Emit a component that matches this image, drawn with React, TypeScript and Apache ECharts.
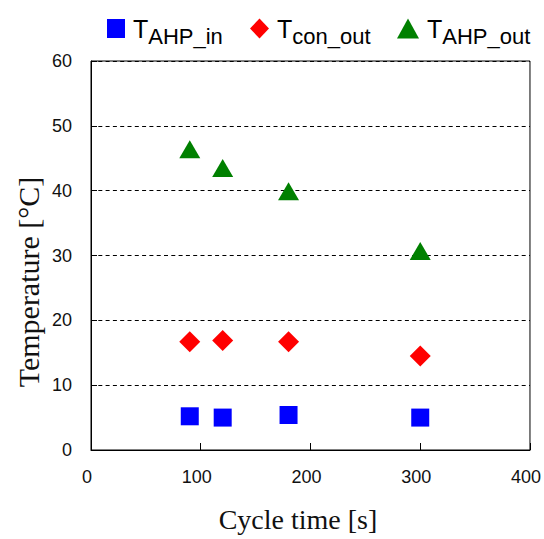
import React, { useEffect, useRef } from 'react';
import * as echarts from 'echarts';

const cycleTimes = [90, 120, 180, 300];
const tAhpIn = [5.2, 5.0, 5.4, 5.0];
const tConOut = [16.7, 16.9, 16.7, 14.5];
const tAhpOut = [46.4, 43.5, 39.9, 30.7];
const seriesNames = ['T_AHP_in', 'T_con_out', 'T_AHP_out'];
const xRange = [0, 400, 100];
const yRange = [0, 60, 10];
const xTitle = 'Cycle time [s]';
const yTitle = 'Temperature [°C]';

const pair = (ys: number[]) => cycleTimes.map((x, i) => [x, ys[i]]);

export default function App() {
  const ref = useRef<HTMLDivElement>(null);
  useEffect(() => {
    if (!ref.current) return;
    const chart = echarts.init(ref.current, undefined, { renderer: 'svg' });
    const rich = {
      t: { fontSize: 25, fontFamily: 'Liberation Sans', color: '#000', lineHeight: 25, padding: [0, 0, 0, 3] },
      s: { fontSize: 22, fontFamily: 'Liberation Sans', color: '#000', lineHeight: 10, padding: [15, 0, 0, 0] },
    };
    const fmt = (name: string) => {
      const parts = name.split('_');
      return `{t|${parts[0]}}{s|${parts.slice(1).join('_')}}`;
    };
    const legendBase = { padding: 0, formatter: fmt, textStyle: { rich }, selectedMode: false };
    chart.setOption({
      animation: false,
      backgroundColor: '#fff',
      grid: { left: 91, right: 14, top: 61, bottom: 89, show: true, borderColor: '#000', borderWidth: 1 },
      legend: [
        { ...legendBase, data: [seriesNames[0]], left: 107, top: 10, itemWidth: 18, itemHeight: 19, icon: 'rect' },
        { ...legendBase, data: [seriesNames[1]], left: 250, top: 10, itemWidth: 19, itemHeight: 20, icon: 'diamond' },
        { ...legendBase, data: [seriesNames[2]], left: 397, top: 10, itemWidth: 22, itemHeight: 20, icon: 'triangle' },
      ],
      xAxis: {
        type: 'value', min: xRange[0], max: xRange[1], interval: xRange[2],
        axisLine: { show: true, lineStyle: { color: '#000', width: 1 } },
        axisTick: { show: true, inside: true, length: 7, lineStyle: { color: '#000' } },
        splitLine: { show: false },
        axisLabel: { fontSize: 18, fontFamily: 'Liberation Sans', color: '#111', margin: 18, padding: [0, 8, 0, 0] },
      },
      yAxis: {
        type: 'value', min: yRange[0], max: yRange[1], interval: yRange[2],
        axisLine: { show: true, lineStyle: { color: '#000', width: 1 } },
        axisTick: { show: true, inside: true, length: 6, lineStyle: { color: '#000' } },
        splitLine: { show: true, lineStyle: { color: '#000', type: [4, 3.3], width: 1 } },
        axisLabel: { fontSize: 18, fontFamily: 'Liberation Sans', color: '#111', margin: 19 },
      },
      graphic: [
        { type: 'text', x: 28, y: 282, rotation: Math.PI / 2,
          style: { text: yTitle, fontSize: 30, fontFamily: 'Liberation Serif', fill: '#111', textAlign: 'center', textVerticalAlign: 'middle' } },
        { type: 'text', x: 298, y: 519,
          style: { text: xTitle, fontSize: 28, fontFamily: 'Liberation Serif', fill: '#111', textAlign: 'center', textVerticalAlign: 'middle' } },
      ],
      series: [
        { name: seriesNames[0], type: 'scatter', data: pair(tAhpIn), symbol: 'rect', symbolSize: 18, itemStyle: { color: '#0000ff', opacity: 1 } },
        { name: seriesNames[1], type: 'scatter', data: pair(tConOut), symbol: 'diamond', symbolSize: [21, 21], itemStyle: { color: '#ff0000', opacity: 1 } },
        { name: seriesNames[2], type: 'scatter', data: pair(tAhpOut), symbol: 'triangle', symbolSize: [21, 18], itemStyle: { color: '#008000', opacity: 1 } },
      ],
    });
    return () => chart.dispose();
  }, []);
  return <div ref={ref} style={{ position: 'fixed', left: 0, top: 0, width: 544, height: 539 }} />;
}
